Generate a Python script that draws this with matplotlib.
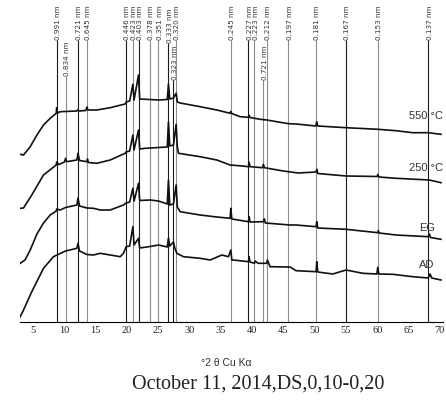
import matplotlib
matplotlib.use("Agg")
import matplotlib.pyplot as plt

# --- XRD patterns (2-theta, intensity in arbitrary units) ---
tt_550 = [3.04, 3.56, 4.63, 5.70, 6.75, 7.82, 8.78, 8.85, 9.0, 9.42, 12.08, 12.25, 12.4, 13.5, 13.68,
          13.85, 15.27, 17.39, 19.78, 19.94, 20.5, 21.01, 21.2, 21.91, 22.1, 23.68, 25.10, 26.5,
          26.69, 26.9, 27.49, 27.92, 28.1, 28.56, 31.75, 34.41, 36.53, 36.64, 36.8, 38.13, 39.46,
          39.56, 39.7, 41.32, 42.38, 43.98, 45.83, 47.06, 50.2, 50.36, 50.52, 55.03, 60.09, 63.0,
          65.67, 68.16, 70.18]
i_550 = [167.7, 167, 175.3, 187, 197, 203.7, 208.7, 214.3, 209, 210.3, 211, 212.5, 211, 211.5, 215,
         212, 212, 214.3, 218, 220, 221, 237.7, 222, 247, 223, 222.5, 222, 222.5,
         238, 223, 224, 228.7, 220, 219, 215.3, 212, 208.7, 210.5, 208.5, 205.3, 204.7,
         206.8, 204.5, 202.7, 202, 200.3, 198.3, 198, 196, 200.3, 196, 194.3, 192.7, 191.3,
         189.3, 189.3, 187.7]

tt_250 = [3.04, 3.56, 4.88, 6.75, 8.78, 8.85, 9.2, 10.1, 10.27, 10.45, 12.08, 12.25, 12.5, 13.68,
          13.77, 13.9, 15.27, 17.39, 19.78, 19.94, 20.5, 21.01, 21.2, 21.91, 22.1, 23.0, 23.77, 25.10,
          26.5, 26.69, 26.9, 27.49, 27.92, 28.1, 28.29, 31.75, 34.41, 36.53, 38.5, 39.46, 39.56, 39.7,
          41.7, 41.84, 42.0, 45.03, 47.4, 50.25, 50.36, 50.52, 55.03, 60.0, 60.09, 60.3, 63.0,
          68.32, 70.18]
i_250 = [113.7, 114, 127, 147, 157, 160, 157.5, 160, 163.7, 160.3, 162, 168.7, 161.5, 160.3,
         163, 159.5, 158.7, 162, 168.7, 170, 171, 187, 172, 192, 173, 173.7, 174, 174.5,
         175, 200, 176, 177, 197.7, 175.3, 168.7, 165.3, 162, 157, 156, 155.3, 159.7, 155.3,
         154.3, 157.7, 154.3, 151, 149, 150, 152.7, 148.5, 146, 145.5, 147.5, 145, 143.7,
         142, 139.3]

tt_eg = [3.04, 3.8, 4.63, 5.70, 6.75, 7.82, 8.78, 8.85, 9.42, 10.27, 12.08, 12.25, 12.5, 13.68,
         14.73, 15.80, 17.39, 19.51, 19.94, 20.5, 21.01, 21.2, 21.91, 22.1, 23.77, 25.10, 26.5,
         26.69, 26.9, 27.49, 27.92, 28.1, 28.56, 31.75, 34.41, 36.53, 36.64, 36.8, 39.46, 39.56,
         39.7, 41.84, 42.0, 42.15, 46.10, 47.06, 50.25, 50.36, 50.52, 55.03, 60.09, 60.18, 60.3,
         63.0, 68.16, 68.32, 68.5, 70.18]
i_eg = [58.7, 62, 72, 88, 99, 107, 111, 113, 112, 114.5, 117, 124, 116, 114,
        113.7, 112, 112, 117, 119, 120, 133.7, 121, 138.7, 121.5, 122, 121, 118,
        142, 117, 118, 137, 115, 110.3, 107, 105, 103.7, 113.7, 103, 100.3, 105.3,
        100, 100.3, 103, 99, 97, 97, 95.3, 100.3, 94, 92.7, 89.3, 91.3, 89,
        87, 85.3, 88, 84.5, 82.7]

tt_ad = [3.04, 3.56, 4.88, 6.75, 8.34, 8.89, 10.27, 12.08, 12.25, 12.5, 13.68, 14.73, 15.80,
         18.99, 19.51, 19.94, 20.5, 21.01, 21.2, 21.91, 22.1, 23.77, 25.10, 26.5, 26.69, 26.9, 27.49,
         27.7, 28.03, 29.08, 31.75, 33.34, 35.21, 36.26, 36.64, 36.8, 37.06, 39.46, 39.56, 39.7,
         40.42, 40.52, 41.0, 42.38, 42.48, 42.91, 46.10, 47.06, 50.25, 50.36, 50.52, 52.91, 55.03,
         57.70, 59.95, 60.09, 60.25, 62.48, 65.67, 68.16, 68.43, 68.7, 70.18]
i_ad = [5.3, 12, 30.3, 53.7, 65.3, 67, 71, 73.7, 78.7, 71, 67.5, 67, 68.7,
        65.3, 68.7, 75.3, 76, 95.3, 77, 83.7, 74, 75.5, 77, 75, 84, 76, 80,
        74, 68.7, 65.3, 63.7, 62, 67, 65.3, 72, 62, 62, 60.3, 65.3, 60,
        58.7, 61, 58.7, 58.7, 62, 55.3, 55, 51.3, 50.3, 60.3, 50, 48, 52,
        48.7, 48, 54.7, 48, 47.7, 45.3, 44, 48, 44, 42]

curve_names = ["550 °C", "250 °C", "EG", "AD"]
name_2theta = [70.45, 70.45, 69.2, 69.2]
name_level = [206, 153.7, 94.3, 57]

# --- reference d-spacings (2-theta position, label, line colour, label height) ---
ref_2theta = [8.85, 10.27, 12.25, 13.68, 19.94, 21.01, 21.91, 23.68, 25.10, 26.69, 27.49, 27.92,
              36.64, 39.46, 40.42, 41.84, 42.38, 45.83, 50.25, 54.98, 60.09, 68.16]
ref_labels = ["0.991 nm", "0.834 nm", "0.721 nm", "0.645 nm", "0.446 nm", "0.423 nm", "0.403 nm",
              "0.378 nm", "0.351 nm", "0.333 nm", "0.323 nm", "0.320 nm", "0.245 nm", "0.227 nm",
              "0.223 nm", "0.721 nm", "0.212 nm", "0.197 nm", "0.181 nm", "0.167 nm", "0.153 nm",
              "0.137 nm"]
ref_dark = [1, 0, 1, 0, 1, 0, 1, 0, 0, 1, 1, 0, 0, 1, 0, 0, 0, 0, 0, 1, 0, 1]
ref_top = [282, 246, 282, 282, 282, 282, 282, 282, 282, 279, 242, 282, 282, 282, 282, 242, 282,
           282, 282, 282, 282, 282]

fig = plt.figure(figsize=(4.46, 4.01), dpi=100)
ax = fig.add_axes([20 / 446, 79 / 401, 423 / 446, 322 / 401])

for x, lab, dark, top in zip(ref_2theta, ref_labels, ref_dark, ref_top):
    col = "#1a1a1a" if dark else "#8c8c8c"
    ax.vlines(x, 0, top, color=col, lw=0.8, zorder=1)
    ax.text(x + 0.2, top, lab, rotation=90, ha="center", va="bottom", fontsize=5.2,
            family="DejaVu Sans", color="#333333")

for tt, ii in [(tt_550, i_550), (tt_250, i_250), (tt_eg, i_eg), (tt_ad, i_ad)]:
    ax.plot(tt, ii, color="#111111", lw=1.2, zorder=3)

for name, x, y in zip(curve_names, name_2theta, name_level):
    ax.text(x, y, name, ha="right", va="center", fontsize=8, family="Liberation Sans",
            color="#333333", zorder=4)

ax.set_xlim(3.0, 70.5)
ax.set_ylim(0, 322)
for s in ["left", "right", "top"]:
    ax.spines[s].set_visible(False)
ax.spines["bottom"].set_linewidth(0.8)
ax.set_yticks([])
ax.set_xticks(range(5, 71, 5))
ax.set_xticks(range(5, 70, 10), minor=True)
ax.tick_params(axis="x", which="major", length=0, pad=3, labelsize=7.5, labelcolor="#222222")
ax.tick_params(axis="x", which="minor", length=3, width=0.8)
for t in ax.get_xticklabels():
    t.set_family("Liberation Serif")

fig.text(226 / 446, 1 - 363 / 401, "°2 θ Cu Kα", ha="center", va="center", fontsize=7.5,
         family="Liberation Sans", color="#333333")
fig.text(258 / 446, 1 - 384 / 401, "October 11, 2014,DS,0,10-0,20", ha="center", va="center",
         fontsize=14.5, family="Liberation Serif", color="#222222")

fig.savefig("out.png", dpi=100)
